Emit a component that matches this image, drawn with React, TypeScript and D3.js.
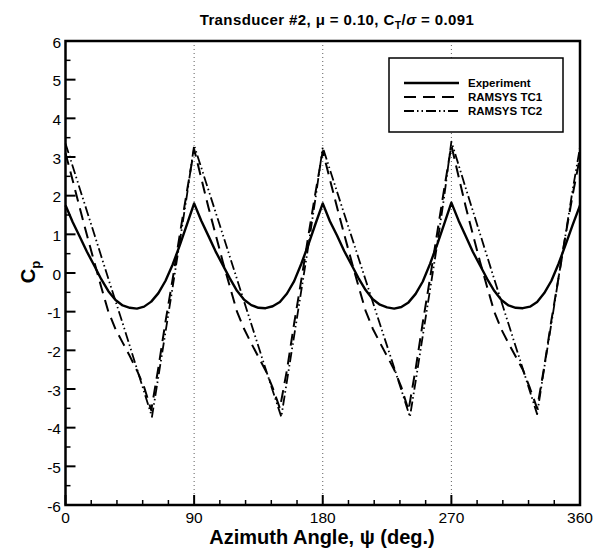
import React from 'react';
import * as d3 from 'd3';

const W = 597;
const H = 550;

const titleText = 'Transducer #2, μ = 0.10, C';
const xTickValues = [0, 90, 180, 270, 360];
const yTickValues = [-6, -5, -4, -3, -2, -1, 0, 1, 2, 3, 4, 5, 6];
const gridAngles = [90, 180, 270];

const expAngles = [
  0, 5, 10, 15, 20, 25, 30, 35, 40, 45, 50, 55, 60, 65, 70, 75, 80, 85,
  90, 95, 100, 105, 110, 115, 120, 125, 130, 135, 140, 145, 150, 155, 160, 165, 170, 175,
  180, 185, 190, 195, 200, 205, 210, 215, 220, 225, 230, 235, 240, 245, 250, 255, 260, 265,
  270, 275, 280, 285, 290, 295, 300, 305, 310, 315, 320, 325, 330, 335, 340, 345, 350, 355,
  360,
];
const experiment = [
  1.75, 1.32, 0.94, 0.55, 0.2, -0.16, -0.47, -0.7, -0.84, -0.9, -0.92, -0.87, -0.74, -0.52, -0.2, 0.22, 0.72, 1.26,
  1.8, 1.35, 0.96, 0.56, 0.21, -0.14, -0.46, -0.69, -0.83, -0.9, -0.91, -0.86, -0.75, -0.53, -0.21, 0.24, 0.74, 1.28,
  1.8, 1.34, 0.97, 0.57, 0.22, -0.13, -0.44, -0.68, -0.82, -0.89, -0.92, -0.88, -0.76, -0.54, -0.22, 0.23, 0.73, 1.27,
  1.82, 1.36, 0.96, 0.55, 0.2, -0.15, -0.46, -0.7, -0.84, -0.9, -0.91, -0.87, -0.75, -0.52, -0.2, 0.24, 0.74, 1.26,
  1.75,
];
const tc1 = [
  3.1, 2.4, 1.68, 0.98, 0.3, -0.36, -1.0, -1.45, -1.8, -2.15, -2.52, -2.95, -3.55, -2.45, -1.25, -0.15, 1.0, 2.12,
  3.2, 2.45, 1.7, 1.0, 0.3, -0.35, -1.0, -1.45, -1.82, -2.17, -2.52, -2.97, -3.5, -2.5, -1.3, -0.18, 0.98, 2.1,
  3.15, 2.42, 1.7, 1.0, 0.32, -0.34, -0.98, -1.44, -1.8, -2.15, -2.5, -2.95, -3.55, -2.48, -1.28, -0.15, 1.02, 2.18,
  3.3, 2.5, 1.72, 1.0, 0.3, -0.36, -1.0, -1.46, -1.82, -2.16, -2.5, -2.98, -3.5, -2.42, -1.22, -0.12, 1.0, 2.05,
  3.0,
];
const tc2Angles = [
  0, 10, 20, 30, 40, 50, 60.5, 65, 70, 75, 80, 85,
  90, 100, 110, 120, 130, 140, 151, 155, 160, 165, 170, 175,
  180, 190, 200, 210, 220, 230, 241, 245, 250, 255, 260, 265,
  270, 280, 290, 300, 310, 320, 330, 335, 340, 345, 350, 355,
  360,
];
const tc2 = [
  3.35, 2.18, 1.02, -0.15, -1.3, -2.48, -3.72, -2.68, -1.52, -0.36, 0.82, 2.02,
  3.3, 2.15, 1.0, -0.16, -1.32, -2.48, -3.72, -2.78, -1.62, -0.45, 0.72, 1.95,
  3.25, 2.1, 0.96, -0.18, -1.32, -2.45, -3.72, -2.8, -1.62, -0.45, 0.72, 1.98,
  3.4, 2.2, 1.02, -0.16, -1.32, -2.48, -3.65, -2.45, -1.3, -0.12, 1.02, 2.18,
  3.25,
];

const seriesNames = ['Experiment', 'RAMSYS TC1', 'RAMSYS TC2'];
const seriesDash = ['none', '12,7', '10,3,1.5,3,1.5,3'];
const seriesWidth = [2.4, 2, 1.8];

const FONT = '"Liberation Sans", Arial, Helvetica, sans-serif';

export default function App() {
  const x = d3.scaleLinear().domain([0, 360]).range([65.5, 580]);
  const y = d3.scaleLinear().domain([-6, 6]).range([505, 41]);

  const xMinor = d3.range(0, 361, 18).filter((v) => v % 90 !== 0);
  const yMinor = d3.range(-5.5, 6, 1);

  const line = d3
    .line<[number, number]>()
    .x((d) => x(d[0]))
    .y((d) => y(d[1]));

  const paths = [
    line(expAngles.map((a, i) => [a, experiment[i]] as [number, number])),
    line(expAngles.map((a, i) => [a, tc1[i]] as [number, number])),
    line(tc2Angles.map((a, i) => [a, tc2[i]] as [number, number])),
  ];

  const [x0, x1] = x.range();
  const [yb, yt] = y.range();

  const leg = { x: 389, y: 58, w: 174, h: 74 };

  return (
    <svg
      width={W}
      height={H}
      style={{ position: 'absolute', left: 0, top: 0, background: '#fff' }}
      fontFamily={FONT}
    >
      <rect x={0} y={0} width={W} height={H} fill="#fff" />
      {/* title */}
      <text x={337} y={25} textAnchor="middle" fontSize={15} fontWeight="bold" letterSpacing={0.4}>
        {titleText}
        <tspan fontSize={10.5} dy={4}>T</tspan>
        <tspan dy={-4}>/</tspan>
        <tspan fontStyle="italic">σ</tspan>
        <tspan> = 0.091</tspan>
      </text>

      {/* grid lines */}
      {gridAngles.map((a) => (
        <line
          key={'g' + a}
          x1={x(a)}
          x2={x(a)}
          y1={yt}
          y2={yb}
          stroke="#333"
          strokeWidth={0.8}
          strokeDasharray="1,3"
        />
      ))}

      {/* series */}
      {paths.map((p, i) => (
        <path
          key={'s' + i}
          d={p || ''}
          fill="none"
          stroke="#000"
          strokeWidth={seriesWidth[i]}
          strokeDasharray={seriesDash[i]}
          strokeLinejoin="round"
        />
      ))}

      {/* ticks */}
      {xTickValues.map((v) => (
        <line key={'xt' + v} x1={x(v)} x2={x(v)} y1={yb} y2={yb - 10} stroke="#000" strokeWidth={2} />
      ))}
      {xMinor.map((v) => (
        <line key={'xm' + v} x1={x(v)} x2={x(v)} y1={yb} y2={yb - 5} stroke="#000" strokeWidth={1.5} />
      ))}
      {yTickValues.map((v) => (
        <line key={'yt' + v} x1={x0} x2={x0 + 10} y1={y(v)} y2={y(v)} stroke="#000" strokeWidth={2} />
      ))}
      {yMinor.map((v) => (
        <line key={'ym' + v} x1={x0} x2={x0 + 5} y1={y(v)} y2={y(v)} stroke="#000" strokeWidth={1.5} />
      ))}

      {/* frame */}
      <rect x={x0} y={yt} width={x1 - x0} height={yb - yt} fill="none" stroke="#000" strokeWidth={2.5} />

      {/* tick labels */}
      {xTickValues.map((v) => (
        <text key={'xl' + v} x={x(v)} y={523} textAnchor="middle" fontSize={15.5}>
          {v}
        </text>
      ))}
      {yTickValues.map((v) => (
        <text key={'yl' + v} x={61} y={y(v) + 6.5} textAnchor="end" fontSize={15.5}>
          {v}
        </text>
      ))}

      {/* axis titles */}
      <text x={322} y={544} textAnchor="middle" fontSize={20} fontWeight="bold">
        Azimuth Angle, ψ (deg.)
      </text>
      <text
        transform="translate(35,272) rotate(-90)"
        textAnchor="middle"
        fontSize={20}
        fontWeight="bold"
      >
        C<tspan fontSize={13} dy={5}>p</tspan>
      </text>

      {/* legend */}
      <rect x={leg.x} y={leg.y} width={leg.w} height={leg.h} fill="#fff" stroke="#000" strokeWidth={1.5} />
      {seriesNames.map((n, i) => (
        <g key={'l' + i}>
          <line
            x1={404}
            x2={459}
            y1={83 + i * 14}
            y2={83 + i * 14}
            stroke="#000"
            strokeWidth={seriesWidth[i]}
            strokeDasharray={seriesDash[i]}
          />
          <text x={468} y={87 + i * 14} fontSize={11.5} fontWeight="bold">
            {n}
          </text>
        </g>
      ))}
    </svg>
  );
}
